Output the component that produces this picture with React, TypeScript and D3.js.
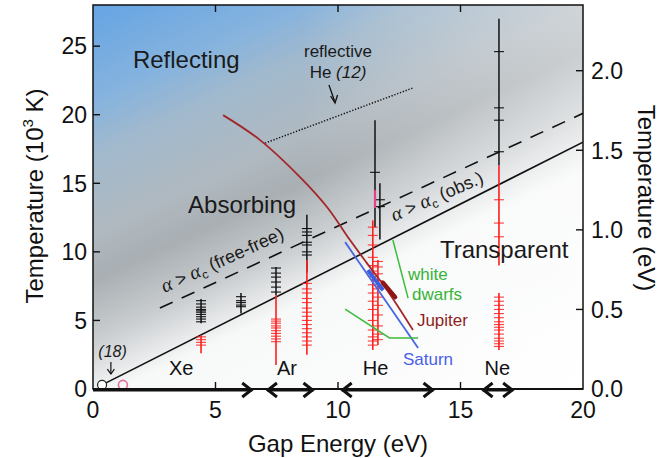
import React from 'react';
import * as d3 from 'd3';

// ---------- axes ----------
const xTicks = [0, 5, 10, 15, 20];
const yTicks = [0, 5, 10, 15, 20, 25];
const eVTicks = [0, 0.5, 1.0, 1.5, 2.0];
const eVTickLabels = ['0.0', '0.5', '1.0', '1.5', '2.0'];
const K_PER_EV = 11.604; // 10^3 K per eV

// ---------- data: error bars [x, low, high] (T in 10^3 K) ----------
const blackBars: [number, number, number][] = [
  [4.41, 4.8, 6.56],
  [6.04, 5.5, 7.0],
  [7.47, 6.85, 8.9],
  [8.73, 8.5, 12.7],
  [11.51, 11.8, 19.6],
  [11.71, 10.9, 15.0],
  [16.57, 16.3, 27.0],
];
const blackTickSets: [number, number[]][] = [
  [4.41, [6.44, 6.2, 5.97, 5.8, 5.7, 5.6, 5.44, 5.27, 5.1, 4.9]],
  [6.04, [6.73, 6.44, 6.3, 6.12, 6.0]],
  [7.47, [8.82, 8.45, 8.16, 7.8, 7.43, 7.07]],
  [8.73, [11.7, 11.45, 11.2, 10.7, 10.5, 10.0, 9.77]],
  [11.51, [15.8]],
  [11.71, [13.8, 13.3]],
  [16.57, [24.6, 20.5, 19.6, 17.3]],
];
const redBars: [number, number, number][] = [
  [4.41, 2.6, 3.94],
  [7.47, 1.75, 6.85],
  [8.73, 2.5, 9.4],
  [11.42, 2.85, 12.3],
  [11.63, 3.2, 9.4],
  [16.57, 9.0, 16.3],
  [16.57, 2.85, 7.0],
];
const redTickSets: [number, number[]][] = [
  [4.41, [3.8, 3.6, 3.4, 3.2]],
  [7.47, [5.1, 4.95, 4.8, 4.6, 4.45, 4.25, 4.05, 3.85, 3.65, 3.45]],
  [8.73, [7.7, 7.3, 7.0, 6.6, 6.3, 5.9, 5.6, 5.3, 5.0, 4.7, 4.4, 4.1, 3.8, 3.5, 3.2]],
  [11.42, [11.8, 11.2, 10.5, 9.6, 9.0, 8.6, 8.2, 7.6, 7.0, 6.4, 5.8, 5.0, 4.3, 3.8, 3.5, 3.2]],
  [11.63, [9.3, 8.9, 8.4, 7.9, 7.3, 6.7, 6.1, 5.4, 4.6, 4.0, 3.6]],
  [16.57, [13.8, 12.1, 11.1]],
  [16.57, [6.7, 6.4, 6.1, 5.8, 5.5, 5.2, 4.9, 4.7, 4.5, 4.3, 4.0, 3.7, 3.5, 3.3, 3.1]],
];
const pinkBar: [number, number, number] = [11.51, 13.2, 14.5];

// ---------- boundary lines ----------
const obsLine: [number, number][] = [[0.37, 0.3], [20, 18.0]];
const freeFreeLine: [number, number][] = [[2.73, 5.9], [20, 20.1]];
const reflectiveHeLine: [number, number][] = [[7.02, 17.93], [13.04, 21.94]];

// ---------- planetary / stellar isentropes ----------
const jupiterCurve: [number, number][] = [
  [5.31, 19.97], [6.82, 18.15], [8.45, 15.45], [9.55, 13.27],
  [10.49, 10.86], [11.18, 9.18], [12.0, 7.22], [13.06, 4.3],
];
const jupiterThick: [number, number][] = [[11.84, 7.73], [12.33, 6.7]];
const saturnLine: [number, number][] = [[10.29, 10.71], [13.27, 2.99]];
const saturnThick: [number, number][] = [[11.22, 8.67], [11.84, 7.2]];
const dwarfPointer: [number, number][] = [[12.24, 10.86], [12.86, 6.63]];
const dwarfLine: [number, number][] = [[10.29, 5.83], [12.1, 3.72], [13.27, 3.72]];

// ---------- element gap ranges on the x axis: [from, to, leftHead, rightHead] ----------
const gapRanges: [number, number, boolean, boolean][] = [
  [0, 6.5, false, true],
  [7.1, 9.0, true, true],
  [10.15, 13.9, true, true],
  [15.9, 17.15, true, true],
];
const elementNames = ['Xe', 'Ar', 'He', 'Ne'];
const elementX = [3.6, 7.92, 11.53, 16.5];

// ---------- previous-work points ----------
const ref18Points: [number, number][] = [[0.37, 0.3]];
const pinkPoints: [number, number][] = [[1.22, 0.3]];

const SANS = "'Liberation Sans', Arial, Helvetica, sans-serif";
const SERIF = "'Liberation Serif', 'Times New Roman', serif";

export default function App() {
  const x = d3.scaleLinear().domain([0, 20]).range([93, 583]);
  const y = d3.scaleLinear().domain([0, 28]).range([389, 5]);
  const yEv = d3.scaleLinear().domain([0, 28 / K_PER_EV]).range([389, 5]);
  const line = d3.line<[number, number]>().x(d => x(d[0])).y(d => y(d[1]));
  const curve = d3.line<[number, number]>().x(d => x(d[0])).y(d => y(d[1])).curve(d3.curveCatmullRom.alpha(0.5));

  const [x0, x1] = x.range();
  const [yb, yt] = y.range();
  const RED = '#ff1e1e';

  // gradient direction perpendicular to the boundary lines
  const n = [-0.423, -0.906];
  const gx2 = -600 * n[0], gy2 = -600 * n[1];

  const ffAngle = -24.5;
  const obsAngle = -23.5;

  return (
    <svg width={661} height={458} style={{ position: 'absolute', left: 0, top: 0, background: '#fff' }}
      fontFamily={SANS}>
      <defs>
        <linearGradient id="bg" gradientUnits="userSpaceOnUse" x1={0} y1={0} x2={gx2} y2={gy2}>
          <stop offset="0" stopColor="#60a1e4" />
          <stop offset="0.09" stopColor="#69a6e3" />
          <stop offset="0.22" stopColor="#86b3de" />
          <stop offset="0.3" stopColor="#a1b9cd" />
          <stop offset="0.42" stopColor="#b0b9c0" />
          <stop offset="0.49" stopColor="#a9afb3" />
          <stop offset="0.58" stopColor="#c9cdd0" />
          <stop offset="0.63" stopColor="#e3e5e6" />
          <stop offset="0.67" stopColor="#f7f8f8" />
          <stop offset="1" stopColor="#ffffff" />
        </linearGradient>
        <linearGradient id="whiteRight" gradientUnits="userSpaceOnUse" x1={300} y1={0} x2={583} y2={0}>
          <stop offset="0" stopColor="#fff" stopOpacity={0} />
          <stop offset="1" stopColor="#fff" stopOpacity={0.4} />
        </linearGradient>
        <clipPath id="plot">
          <rect x={x0} y={yt} width={x1 - x0} height={yb - yt} />
        </clipPath>
      </defs>

      {/* background */}
      <rect x={x0} y={yt} width={x1 - x0} height={yb - yt} fill="url(#bg)" />
      <rect x={x0} y={yt} width={x1 - x0} height={yb - yt} fill="url(#whiteRight)" />

      <g clipPath="url(#plot)">
        {/* boundary lines */}
        <path d={line(obsLine) || ''} stroke="#111" strokeWidth={1.6} fill="none" />
        <path d={line(freeFreeLine) || ''} stroke="#111" strokeWidth={1.6} fill="none" strokeDasharray="14,10" />
        <path d={line(reflectiveHeLine) || ''} stroke="#111" strokeWidth={1.5} fill="none" strokeDasharray="1.3,1.7" />

        {/* black data */}
        {blackBars.map((b, i) => (
          <line key={'bb' + i} x1={x(b[0])} x2={x(b[0])} y1={y(b[1])} y2={y(b[2])} stroke="#111" strokeWidth={1.5} />
        ))}
        {blackTickSets.map((s, i) => s[1].map((t, j) => (
          <line key={'bt' + i + '-' + j} x1={x(s[0]) - 5} x2={x(s[0]) + 5} y1={y(t)} y2={y(t)} stroke="#111" strokeWidth={1.1} />
        )))}
        <line x1={x(pinkBar[0])} x2={x(pinkBar[0])} y1={y(pinkBar[1])} y2={y(pinkBar[2])} stroke="#e8408a" strokeWidth={2.2} />

        {/* red data */}
        {redBars.map((b, i) => (
          <line key={'rb' + i} x1={x(b[0])} x2={x(b[0])} y1={y(b[1])} y2={y(b[2])} stroke={RED} strokeWidth={1.6} />
        ))}
        {redTickSets.map((s, i) => s[1].map((t, j) => (
          <line key={'rt' + i + '-' + j} x1={x(s[0]) - 5} x2={x(s[0]) + 5} y1={y(t)} y2={y(t)} stroke={RED} strokeWidth={1.1} opacity={0.85} />
        )))}

        {/* isentropes */}
        <path d={curve(jupiterCurve) || ''} stroke="#a3262a" strokeWidth={1.8} fill="none" />
        <path d={line(saturnLine) || ''} stroke="#4a66e0" strokeWidth={1.8} fill="none" />
        <path d={line(saturnThick) || ''} stroke="#3b5de0" strokeWidth={4} fill="none" />
        <path d={line(jupiterThick) || ''} stroke="#8e1616" strokeWidth={4.5} fill="none" strokeLinecap="round" />
        <path d={line(dwarfPointer) || ''} stroke="#3cbc3c" strokeWidth={1.5} fill="none" />
        <path d={line(dwarfLine) || ''} stroke="#3cbc3c" strokeWidth={1.5} fill="none" />

        {/* (18) points */}
        {ref18Points.map((p, i) => (
          <circle key={'c' + i} cx={x(p[0])} cy={y(p[1])} r={4.5} fill="#fff" stroke="#222" strokeWidth={1.2} />
        ))}
        {pinkPoints.map((p, i) => (
          <circle key={'p' + i} cx={x(p[0])} cy={y(p[1])} r={4.5} fill="none" stroke="#e0709a" strokeWidth={1.6} />
        ))}
      </g>

      {/* frame */}
      <rect x={x0} y={yt} width={x1 - x0} height={yb - yt} fill="none" stroke="#111" strokeWidth={1.5} />
      <line x1={x0} x2={x1} y1={yb} y2={yb} stroke="#111" strokeWidth={2.2} />

      {/* ticks */}
      {yTicks.map(t => (
        <g key={'yl' + t}>
          {t > 0 && <line x1={x0} x2={x0 + 7} y1={y(t)} y2={y(t)} stroke="#111" strokeWidth={1.4} />}
          <text x={x0 - 6} y={y(t)} dy="0.36em" textAnchor="end" fontSize={23} fill="#111">{t}</text>
        </g>
      ))}
      {eVTicks.map((t, i) => (
        <g key={'yr' + t}>
          {t > 0 && <line x1={x1 - 7} x2={x1} y1={yEv(t)} y2={yEv(t)} stroke="#111" strokeWidth={1.4} />}
          <text x={x1 + 8} y={yEv(t)} dy="0.36em" textAnchor="start" fontSize={23} fill="#111">{eVTickLabels[i]}</text>
        </g>
      ))}
      {xTicks.map(t => (
        <g key={'x' + t}>
          {t > 0 && t < 20 && (
            <>
              <line x1={x(t)} x2={x(t)} y1={yb} y2={yb - 7} stroke="#111" strokeWidth={1.4} />
              <line x1={x(t)} x2={x(t)} y1={yt} y2={yt + 7} stroke="#111" strokeWidth={1.4} />
            </>
          )}
          <text x={x(t)} y={418} textAnchor="middle" fontSize={23} fill="#111">{t}</text>
        </g>
      ))}

      {/* gap range arrows */}
      {gapRanges.map((g, i) => {
        const a = x(g[0]), b = x(g[1]), yy = yb + 1;
        return (
          <g key={'ga' + i} stroke="#111" strokeWidth={3} fill="none" strokeLinejoin="miter">
            <line x1={a} x2={b} y1={yy} y2={yy} />
            {g[2] && <path d={`M${a + 10},${yy - 7} L${a + 1},${yy} L${a + 10},${yy + 7}`} />}
            {g[3] && <path d={`M${b - 10},${yy - 7} L${b - 1},${yy} L${b - 10},${yy + 7}`} />}
          </g>
        );
      })}
      {elementNames.map((nme, i) => (
        <text key={nme} x={x(elementX[i])} y={y(1.0)} textAnchor="middle" fontSize={20} fill="#111">{nme}</text>
      ))}

      {/* region labels */}
      <text x={x(1.63)} y={y(23.4)} fontSize={24} fill="#1a1a1a">Reflecting</text>
      <text x={x(3.88)} y={y(12.83)} fontSize={24} fill="#1a1a1a">Absorbing</text>
      <text x={x(14.16)} y={y(9.55)} fontSize={24} fill="#1a1a1a">Transparent</text>

      {/* reflective He (12) */}
      <text x={x(10.0)} y={y(24.2)} textAnchor="middle" fontSize={17} fill="#1a1a1a">reflective</text>
      <text x={x(10.0)} y={y(22.67)} textAnchor="middle" fontSize={17} fill="#1a1a1a">
        He <tspan fontStyle="italic">(12)</tspan>
      </text>
      <line x1={x(9.63)} y1={y(22.16)} x2={x(9.86)} y2={y(21.0)} stroke="#111" strokeWidth={1.3} />
      <path d={`M${x(9.86) - 4},${y(21.0) - 5} L${x(9.88)},${y(20.85)} L${x(9.86) + 3},${y(21.0) - 6}`} stroke="#111" strokeWidth={1.3} fill="none" />

      {/* (18) */}
      <text x={x(0.8)} y={y(2.33)} textAnchor="middle" fontSize={16} fontStyle="italic" fill="#1a1a1a">(18)</text>
      <line x1={x(0.73)} y1={y(1.97)} x2={x(0.73)} y2={y(1.09)} stroke="#111" strokeWidth={1.2} />
      <path d={`M${x(0.73) - 3.5},${y(1.09) - 5} L${x(0.73)},${y(1.09)} L${x(0.73) + 3.5},${y(1.09) - 5}`} stroke="#111" strokeWidth={1.2} fill="none" />

      {/* alpha labels */}
      <text transform={`translate(${x(2.92)},${y(7.0)}) rotate(${ffAngle})`} fontSize={18} fill="#1a1a1a">
        <tspan fontFamily={SERIF} fontStyle="italic" fontSize={20}>α</tspan>
        <tspan> &gt; </tspan>
        <tspan fontFamily={SERIF} fontStyle="italic" fontSize={20}>α</tspan>
        <tspan fontSize={12} dy={4}>c</tspan>
        <tspan dy={-4}> (free-free)</tspan>
      </text>
      <text transform={`translate(${x(12.3)},${y(12.2)}) rotate(${obsAngle})`} fontSize={18} fill="#1a1a1a">
        <tspan fontFamily={SERIF} fontStyle="italic" fontSize={20}>α</tspan>
        <tspan> &gt; </tspan>
        <tspan fontFamily={SERIF} fontStyle="italic" fontSize={20}>α</tspan>
        <tspan fontSize={12} dy={4}>c</tspan>
        <tspan dy={-4}> (obs.)</tspan>
      </text>

      {/* isentrope labels */}
      <text x={x(12.86)} y={y(7.94)} fontSize={17} fill="#36b436">white</text>
      <text x={x(13.02)} y={y(6.49)} fontSize={17} fill="#36b436">dwarfs</text>
      <text x={x(13.22)} y={y(4.59)} fontSize={17} fill="#8e1f22">Jupiter</text>
      <text x={x(12.65)} y={y(1.75)} fontSize={17} fill="#4a5fe6">Saturn</text>

      {/* axis titles */}
      <text x={(x0 + x1) / 2} y={452} textAnchor="middle" fontSize={24} fill="#111">Gap Energy (eV)</text>
      <text transform={`translate(43,196) rotate(-90)`} textAnchor="middle" fontSize={24} fill="#111">
        Temperature (10<tspan fontSize={15} dy={-10}>3</tspan><tspan dy={10}> K)</tspan>
      </text>
      <text transform={`translate(638,198) rotate(90)`} textAnchor="middle" fontSize={24} fill="#111">Temperature (eV)</text>
    </svg>
  );
}
